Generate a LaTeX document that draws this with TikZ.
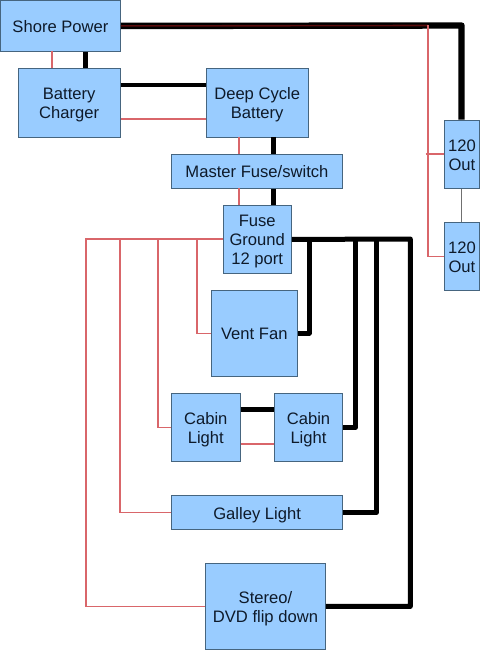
\documentclass[tikz,border=0pt]{standalone}
\usepackage{fontspec}
\setmainfont{Liberation Sans}
\definecolor{boxfill}{HTML}{99CCFF}
\definecolor{boxline}{HTML}{46657F}
\definecolor{redwire}{HTML}{D9666A}
\definecolor{darkwire}{HTML}{5A0C0C}
\definecolor{linkgray}{HTML}{707070}
\definecolor{labelink}{HTML}{0E1A2A}
\newcommand{\boxtext}[1]{\vbox{\kern5.4pt\hbox{\begin{tabular}{@{}c@{}}#1\end{tabular}}}}
\tikzset{
  box/.style={draw=boxline,line width=0.9pt,fill=boxfill,inner sep=0pt,text=labelink,anchor=north west,
    font=\fontsize{16.6}{19}\selectfont},
  thick wire/.style={draw=black,line width=5pt,line join=round},
  thin wire/.style={draw=redwire,line width=1.2pt},
  gray wire/.style={draw=linkgray,line width=1pt}
}
\begin{document}
\begin{tikzpicture}[x=1pt,y=-1pt]
\useasboundingbox[fill=white] (0,0) rectangle (480,650);
% boxes
\node[box,minimum width=120pt,minimum height=51pt] (shore) at (0,0) {\boxtext{Shore Power}};
\node[box,minimum width=102.5pt,minimum height=68pt] (charger) at (17.5,68.5) {\boxtext{Battery\\Charger}};
\node[box,minimum width=102.5pt,minimum height=68pt] (deep) at (205.5,68.5) {\boxtext{Deep Cycle\\Battery}};
\node[box,minimum width=171pt,minimum height=34pt] (master) at (171,154) {\boxtext{Master Fuse/switch}};
\node[box,minimum width=68.5pt,minimum height=68pt] (fuse) at (222.5,205) {\boxtext{Fuse\\Ground\\12 port}};
\node[box,minimum width=85.7pt,minimum height=85.7pt] (vent) at (211,290) {\boxtext{Vent Fan}};
\node[box,minimum width=68.7pt,minimum height=68.3pt] (cabinA) at (171,392.7) {\boxtext{Cabin\\Light}};
\node[box,minimum width=68.7pt,minimum height=68.3pt] (cabinB) at (273.7,392.7) {\boxtext{Cabin\\Light}};
\node[box,minimum width=171.3pt,minimum height=34.3pt] (galley) at (171,495) {\boxtext{Galley Light}};
\node[box,minimum width=120pt,minimum height=85.4pt] (stereo) at (205,563.3) {\boxtext{Stereo/\\DVD flip down}};
\node[box,minimum width=34.4pt,minimum height=68.3pt] (outA) at (444.3,119.7) {\boxtext{120\\Out}};
\node[box,minimum width=34.4pt,minimum height=68.3pt] (outB) at (444.3,222) {\boxtext{120\\Out}};
% named bends
\coordinate (redtop) at (428,25.5);
\coordinate (blacktop) at (461.5,25.5);
\coordinate (busR) at (410.3,239);
\coordinate (busL) at (86,239);
% black wires
\draw[thick wire,line width=6.4pt] (shore.east) -- (blacktop) -- (blacktop|-outA.north);
\draw[thick wire,line width=5.6pt] (85.5,0|-shore.south) -- (85.5,0|-charger.north);
\draw[thick wire,line width=4.4pt] (charger.east|-0,85) -- (deep.west|-0,85);
\draw[thick wire] (273.3,0|-deep.south) -- (273.3,0|-master.north);
\draw[thick wire] (273.3,0|-master.south) -- (273.3,0|-fuse.north);
\draw[thick wire] (fuse.east) -- (busR) -- (busR|-stereo.east) -- (stereo.east);
\draw[thick wire] (309,239) -- (309,0|-vent.east) -- (vent.east);
\draw[thick wire] (355.3,239) -- (355.3,0|-cabinB.east) -- (cabinB.east);
\draw[thick wire] (376.3,239) -- (376.3,0|-galley.east) -- (galley.east);
\draw[thick wire] (cabinA.east|-0,409.3) -- (cabinB.west|-0,409.3);
% red wires
\draw[thin wire] (52,51) -- (52,68.5);
\draw[thin wire] (charger.east|-0,119) -- (deep.west|-0,119);
\draw[thin wire] (239,136.5) -- (239,154);
\draw[thin wire] (239,188) -- (239,205);
\draw[thin wire] (cabinA.east|-0,444) -- (cabinB.west|-0,444);
\draw[draw=darkwire,line width=1.6pt] (shore.east) -- (redtop);
\draw[thin wire] (redtop) -- (redtop|-outB.west) -- (outB.west);
\draw[thin wire] (425.5,154) -- (outA.west|-0,154);
\draw[thin wire] (fuse.west|-busL) -- (busL) -- (busL|-stereo.west) -- (stereo.west);
\draw[thin wire] (197,239) -- (197,0|-vent.west) -- (vent.west);
\draw[thin wire] (158,239) -- (158,0|-cabinA.west) -- (cabinA.west);
\draw[thin wire] (120,239) -- (120,0|-galley.west) -- (galley.west);
% link between outlets
\draw[gray wire] (outA) -- (outB);
\end{tikzpicture}
\end{document}
